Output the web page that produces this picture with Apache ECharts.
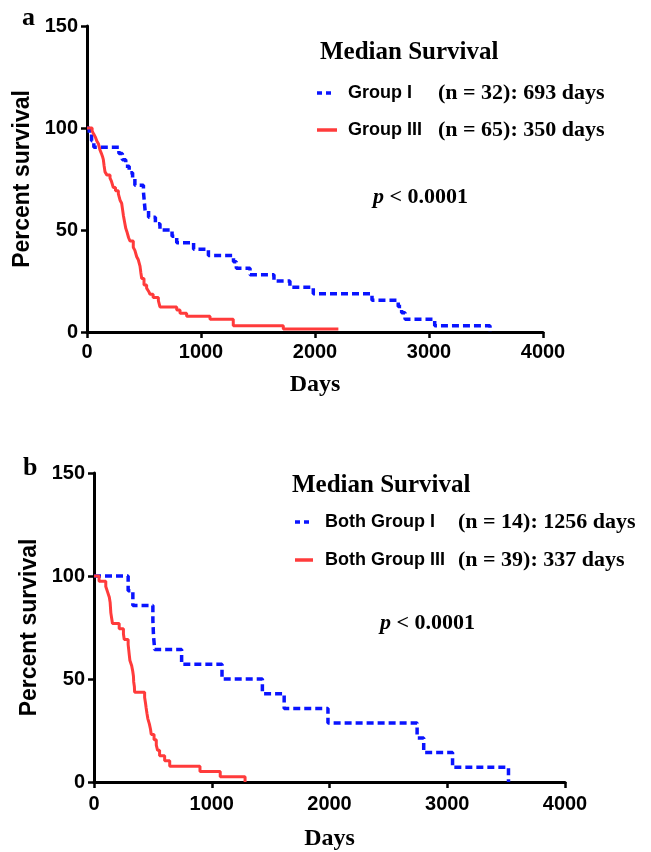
<!DOCTYPE html>
<html>
<head>
<meta charset="utf-8">
<script src="https://cdn.jsdelivr.net/npm/echarts@6/dist/echarts.min.js"></script>
<style>
html, body { margin: 0; padding: 0; background: #fff; }
#chart { width: 651px; height: 852px; }
</style>
</head>
<body>
<div id="chart"></div>
<script>
// axis ticks
var dayTicks = [0, 1000, 2000, 3000, 4000];
var pctTicks = [0, 50, 100, 150];

// panel a: Group I (n = 32)
var aGroup1Days = [0, 20, 40, 60, 280, 310, 340, 370, 400, 420, 495, 500, 505, 510, 540, 600, 640, 746, 787, 935, 1065, 1285, 1310, 1430, 1640, 1780, 1985, 2500, 2730, 2760, 2790, 3050, 3535];
var aGroup1Pct  = [100, 96.9, 93.8, 90.6, 87.5, 84.4, 81.3, 78.1, 75.0, 71.9, 68.8, 65.6, 62.5, 59.4, 56.3, 53.1, 50.0, 46.9, 43.8, 40.6, 37.5, 34.4, 31.3, 28.1, 25.0, 21.9, 18.8, 15.6, 12.5, 9.4, 6.3, 3.1, 0];

// panel a: Group III (n = 65)
var aGroup3Days = [0, 45, 60, 75, 85, 100, 114, 125, 135, 143, 150, 158, 175, 202, 215, 231, 250, 275, 290, 304, 312, 320, 330, 340, 350, 365, 377, 406, 420, 436, 450, 465, 472, 480, 500, 523, 540, 553, 580, 626, 640, 787, 816, 874, 1079, 1283, 1722, 2205];
var aGroup3Pct  = [100, 98.5, 96.9, 95.4, 93.8, 92.3, 89.2, 87.7, 86.2, 84.6, 81.5, 78.5, 76.9, 75.4, 73.8, 70.8, 69.2, 67.7, 64.6, 63.1, 60.0, 56.9, 53.8, 50.8, 49.2, 46.2, 44.6, 41.5, 40.0, 36.9, 35.4, 32.3, 29.2, 26.2, 23.1, 21.5, 20.0, 18.5, 16.9, 15.4, 12.3, 10.8, 9.2, 7.7, 6.2, 3.1, 1.5, 1.5];

// panel b: Both Group I (n = 14)
var bGroup1Days = [0, 290, 330, 500, 505, 515, 744, 1087, 1430, 1615, 1987, 2744, 2800, 3045, 3520];
var bGroup1Pct  = [100, 92.9, 85.7, 78.6, 71.4, 64.3, 57.1, 50.0, 42.9, 35.7, 28.6, 21.4, 14.3, 7.1, 0];

// panel b: Both Group III (n = 39)
var bGroup3Days = [0, 43, 100, 115, 130, 137, 143, 150, 157, 214, 250, 257, 290, 295, 300, 305, 320, 329, 335, 337, 343, 345, 430, 437, 443, 450, 457, 470, 480, 486, 510, 529, 540, 557, 600, 643, 900, 1072, 1283];
var bGroup3Pct  = [100, 97.4, 94.9, 92.3, 89.7, 87.2, 82.1, 79.5, 76.9, 74.4, 71.8, 69.2, 66.7, 64.1, 61.5, 59.0, 56.4, 53.8, 51.3, 48.7, 46.2, 43.6, 41.0, 38.5, 35.9, 33.3, 30.8, 28.2, 25.6, 23.1, 20.5, 17.9, 15.4, 12.8, 10.3, 7.7, 5.1, 2.6, 0];

var BLUE = '#0a14ff';
var RED = '#ff3b3b';
var SANS = 'Liberation Sans, Arial, sans-serif';
var SERIF = 'Liberation Serif, Times New Roman, serif';

function pairs(xs, ys) {
  return xs.map(function (x, i) { return [x, ys[i]]; });
}

function xAxisFor(grid, gap, margin) {
  return {
    type: 'value', gridIndex: grid, min: dayTicks[0], max: dayTicks[dayTicks.length - 1], interval: 1000,
    name: 'Days', nameLocation: 'middle', nameGap: gap,
    nameTextStyle: { fontFamily: SERIF, fontWeight: 'bold', fontSize: 24, color: '#000' },
    axisLine: { show: true, lineStyle: { color: '#000', width: 3 } },
    axisTick: { show: true, length: 6, lineStyle: { color: '#000', width: 2.5 } },
    axisLabel: {
      fontFamily: SANS, fontWeight: 'bold', fontSize: 20, color: '#000', margin: margin,
      formatter: function (v) { return String(v); }
    },
    splitLine: { show: false }
  };
}

function yAxisFor(grid, gap) {
  return {
    type: 'value', gridIndex: grid, min: pctTicks[0], max: pctTicks[pctTicks.length - 1], interval: 50,
    name: 'Percent survival', nameLocation: 'middle', nameGap: gap,
    nameTextStyle: { fontFamily: SANS, fontWeight: 'bold', fontSize: 23, color: '#000' },
    axisLine: { show: true, lineStyle: { color: '#000', width: 3 } },
    axisTick: { show: true, length: 6, lineStyle: { color: '#000', width: 2.5 } },
    axisLabel: {
      fontFamily: SANS, fontWeight: 'bold', fontSize: 20, color: '#000', margin: 9,
      formatter: function (v) { return String(v); }
    },
    splitLine: { show: false }
  };
}

function kmLine(name, grid, data, color, dashed) {
  return {
    name: name, type: 'line', step: 'end', xAxisIndex: grid, yAxisIndex: grid,
    data: data, showSymbol: false, symbol: 'none', animation: false,
    lineStyle: { color: color, width: dashed ? 3.5 : 3, type: dashed ? [7, 4] : 'solid' },
    z: dashed ? 3 : 4
  };
}

function txt(x, y, text, font, extra) {
  var style = {
    text: text, x: x, y: y, font: font, fill: '#000',
    textAlign: 'left', textVerticalAlign: 'middle', align: 'left', verticalAlign: 'middle'
  };
  if (extra) { for (var k in extra) style[k] = extra[k]; }
  return { type: 'text', silent: true, style: style };
}

function key(x1, x2, y, color, dashed) {
  return {
    type: 'line', silent: true,
    shape: { x1: x1, y1: y, x2: x2, y2: y },
    style: { stroke: color, lineWidth: 3.5, lineDash: dashed ? [5, 4] : null }
  };
}

var headFont = 'bold 25px ' + SERIF;
var groupFont = 'bold 18px ' + SANS;
var nFont = 'bold 22px ' + SERIF;

function pText(x, y) {
  return {
    type: 'text', silent: true,
    style: {
      x: x, y: y, text: '{i|p} < 0.0001', textVerticalAlign: 'middle', verticalAlign: 'middle',
      font: 'bold 22px ' + SERIF, fill: '#000',
      rich: { i: { fontStyle: 'italic', fontWeight: 'bold', fontSize: 22, fontFamily: SERIF, fill: '#000', color: '#000' } }
    }
  };
}

var chart = echarts.init(document.getElementById('chart'), null, { renderer: 'canvas' });
chart.setOption({
  backgroundColor: '#fff',
  animation: false,
  grid: [
    { left: 87, top: 26, right: 108, height: 306 },
    { left: 94, top: 473, right: 86, height: 312 }
  ],
  xAxis: [xAxisFor(0, 41, 10), xAxisFor(1, 45, 12)],
  yAxis: [yAxisFor(0, 44), yAxisFor(1, 52)],
  series: [
    kmLine('Group I', 0, pairs(aGroup1Days, aGroup1Pct), BLUE, true),
    kmLine('Group III', 0, pairs(aGroup3Days, aGroup3Pct), RED, false),
    kmLine('Both Group I', 1, pairs(bGroup1Days, bGroup1Pct), BLUE, true),
    kmLine('Both Group III', 1, pairs(bGroup3Days, bGroup3Pct), RED, false)
  ],
  graphic: [
    txt(22, 18, 'a', 'bold 26px ' + SERIF),
    txt(23, 468, 'b', 'bold 26px ' + SERIF),

    txt(320, 53, 'Median Survival', headFont),
    key(317, 333, 93, BLUE, true),
    txt(348, 93, 'Group I', groupFont),
    txt(438, 93, '(n = 32): 693 days', nFont),
    key(317, 337, 130, RED, false),
    txt(348, 130, 'Group III', groupFont),
    txt(438, 130, '(n = 65): 350 days', nFont),
    pText(373, 197),

    txt(292, 486, 'Median Survival', headFont),
    key(295, 311, 522, BLUE, true),
    txt(325, 522, 'Both Group I', groupFont),
    txt(458, 522, '(n = 14): 1256 days', nFont),
    key(295, 313, 560, RED, false),
    txt(325, 560, 'Both Group III', groupFont),
    txt(458, 560, '(n = 39): 337 days', nFont),
    pText(380, 623)
  ]
});
</script>
</body>
</html>
